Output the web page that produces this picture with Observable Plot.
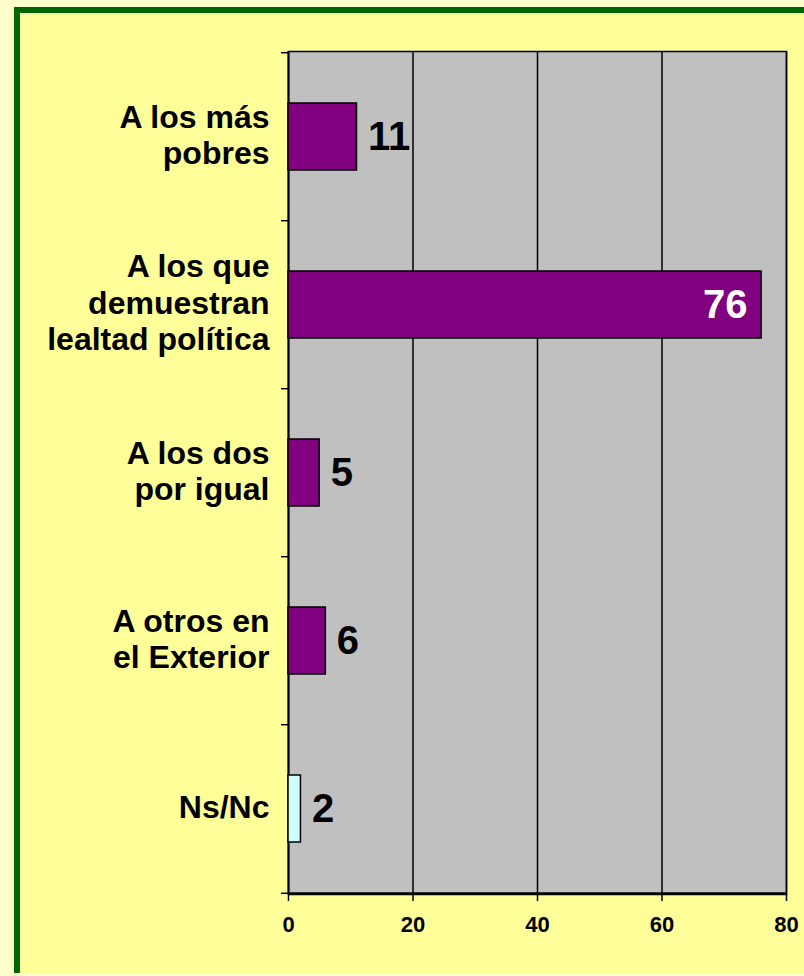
<!DOCTYPE html>
<html>
<head>
<meta charset="utf-8">
<script src="https://cdn.jsdelivr.net/npm/d3@7"></script>
<script src="https://cdn.jsdelivr.net/npm/@observablehq/plot@0.6"></script>
<style>
  html, body { margin: 0; padding: 0; }
  #wrap { position: relative; width: 804px; height: 976px; background: #FFFFCC; overflow: hidden; font-family: "Liberation Sans", Arial, sans-serif; }
  #box { position: absolute; left: 14px; top: 7px; width: 820px; height: 960px; background: #FFFF99; border-left: 6px solid #006600; border-top: 6px solid #006600; }
  #chart { position: absolute; left: 0; top: 0; }
</style>
</head>
<body>
<div id="wrap"><div id="box"></div><div id="chart"></div></div>
<script>
const categories = ["A los más\npobres", "A los que\ndemuestran\nlealtad política", "A los dos\npor igual", "A otros en\nel Exterior", "Ns/Nc"];
const values = [11, 76, 5, 6, 2];
const xTicks = [0, 20, 40, 60, 80];

const data = categories.map((c, i) => ({cat: c, v: values[i]}));

const W = 804, H = 976, mL = 288, mR = 18, mT = 51, mB = 82;
const step = (H - mT - mB) / categories.length;
const font = '"Liberation Sans", Arial, sans-serif';

const chart = Plot.plot({
  width: W, height: H,
  marginLeft: mL, marginRight: mR, marginTop: mT, marginBottom: mB,
  style: {background: "transparent", fontFamily: font, color: "black"},
  x: {domain: [0, 80], ticks: xTicks, axis: null, label: null},
  y: {type: "band", domain: categories, paddingInner: 0.6, paddingOuter: 0.3, axis: null, label: null},
  marks: [
    Plot.frame({fill: "#C0C0C0", stroke: "black", strokeWidth: 1.5}),
    Plot.ruleX(xTicks.filter(t => t > 0), {stroke: "black", strokeWidth: 1.5}),
    Plot.ruleX([0], {stroke: "black", strokeWidth: 2}),
    Plot.ruleY([0], {y: () => categories[categories.length - 1], x1: 0, x2: 80, dy: step / 2, stroke: "black", strokeWidth: 2}),
    Plot.ruleY(categories, {y: d => d, x1: 0, x2: 0, insetLeft: -7, dy: -step / 2, stroke: "black", strokeWidth: 1.5}),
    Plot.ruleY([categories[categories.length - 1]], {y: d => d, x1: 0, x2: 0, insetLeft: -7, dy: step / 2, stroke: "black", strokeWidth: 1.5}),
    Plot.axisX({ticks: xTicks, label: null, tickSize: 7, tickPadding: 15, fontSize: 22, fontWeight: "bold", stroke: "black", strokeWidth: 1.5, tickFormat: d => String(d)}),
    Plot.barX(data, {y: "cat", x: "v", fill: d => d.cat === "Ns/Nc" ? "#CCFFFF" : "#800080", stroke: "black", strokeWidth: 1.5}),
    Plot.text(data.filter(d => d.v < 50), {y: "cat", x: "v", text: d => String(d.v), textAnchor: "start", dx: 11, fontSize: 40, fontWeight: "bold", fill: "black"}),
    Plot.text(data.filter(d => d.v >= 50), {y: "cat", x: "v", text: d => String(d.v), textAnchor: "end", dx: -14, fontSize: 40, fontWeight: "bold", fill: "white"}),
    Plot.text(data, {y: "cat", x: 0, text: "cat", textAnchor: "end", dx: -19, dy: -3, fontSize: 32, fontWeight: "bold", lineHeight: 1.13, fill: "black"})
  ]
});
document.getElementById("chart").appendChild(chart);
</script>
</body>
</html>
